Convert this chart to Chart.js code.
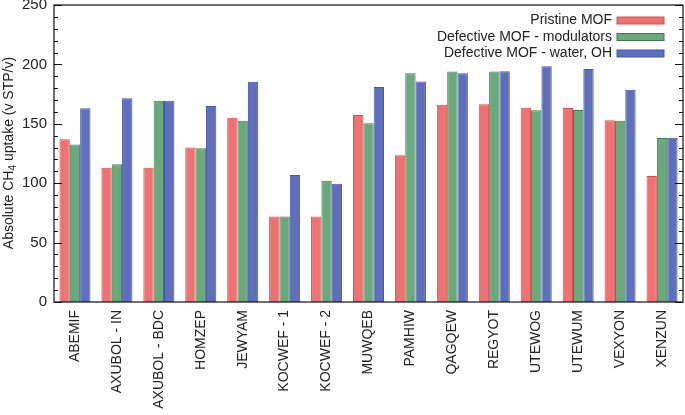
<!DOCTYPE html>
<html>
<head>
<meta charset="utf-8">
<script src="https://cdn.jsdelivr.net/npm/chart.js@4.4.0/dist/chart.umd.min.js"></script>
<style>
  html, body { margin: 0; padding: 0; background: #fff; }
  #wrap { width: 685px; height: 415px; position: relative; }
</style>
</head>
<body>
<div id="wrap"><canvas id="chart"></canvas></div>
<script>
const categories = ["ABEMIF", "AXUBOL - IN", "AXUBOL - BDC", "HOMZEP", "JEWYAM", "KOCWEF - 1", "KOCWEF - 2",
  "MUWQEB", "PAMHIW", "QAGQEW", "REGYOT", "UTEWOG", "UTEWUM", "VEXYON", "XENZUN"];
const pristine = [137, 113, 113, 130, 155, 72, 72, 157.5, 123.5, 166, 166.5, 163.5, 163.3, 153, 106];
const modulators = [132.5, 116, 169.5, 129.5, 152.5, 72, 102, 150.5, 192.5, 194, 194, 161.5, 161.7, 152.5, 138];
const waterOH = [163, 171.5, 169.5, 165, 185.5, 107, 99.5, 181, 185.7, 192.5, 194.2, 198.5, 196.2, 178.7, 138.2];
const seriesNames = ["Pristine MOF", "Defective MOF - modulators", "Defective MOF - water, OH"];
const yTicks = [0, 50, 100, 150, 200, 250];

const fills = ["#ef7272", "#6aa97b", "#5f6fbb"];
const borders = ["#d94c4c", "#3e7a4f", "#4456a8"];
const FONT = "'Liberation Sans', Arial, sans-serif";

// frame, inward ticks, legend and y title
const decor = {
  id: "decor",
  afterDraw(chart) {
    const { ctx, chartArea: a } = chart;
    const y = chart.scales.y;
    ctx.save();
    ctx.strokeStyle = "#111";
    ctx.lineWidth = 1.2;
    ctx.strokeRect(a.left, a.top, a.right - a.left, a.bottom - a.top);
    ctx.lineWidth = 1;
    for (let v = 0; v <= 250; v += 10) {
      const py = Math.round(y.getPixelForValue(v)) + 0.5;
      const len = v % 50 === 0 ? 8 : 4;
      ctx.beginPath();
      ctx.moveTo(a.left, py); ctx.lineTo(a.left + len, py);
      ctx.moveTo(a.right, py); ctx.lineTo(a.right - len, py);
      ctx.stroke();
    }
    // legend
    ctx.font = "14px " + FONT;
    ctx.textAlign = "right";
    ctx.textBaseline = "middle";
    seriesNames.forEach((name, i) => {
      const ly = 20.5 + i * 16.5;
      ctx.fillStyle = "#222";
      ctx.fillText(name, 612, ly);
      ctx.fillStyle = fills[i];
      ctx.fillRect(617, ly - 3.5, 47, 7);
      ctx.strokeStyle = borders[i];
      ctx.strokeRect(617, ly - 3.5, 47, 7);
    });
    // y title with subscript
    ctx.translate(9, 153);
    ctx.rotate(-Math.PI / 2);
    ctx.fillStyle = "#222";
    ctx.textAlign = "left";
    ctx.textBaseline = "middle";
    const p1 = "Absolute CH", p2 = "4", p3 = " uptake (v STP/v)";
    ctx.font = "14px " + FONT;
    const w1 = ctx.measureText(p1).width;
    ctx.font = "10px " + FONT;
    const w2 = ctx.measureText(p2).width;
    ctx.font = "14px " + FONT;
    const w3 = ctx.measureText(p3).width;
    let x = -(w1 + w2 + w3) / 2;
    ctx.fillText(p1, x, 0);
    ctx.font = "10px " + FONT;
    ctx.fillText(p2, x + w1, 4);
    ctx.font = "14px " + FONT;
    ctx.fillText(p3, x + w1 + w2, 0);
    ctx.restore();
  }
};

new Chart(document.getElementById("chart"), {
  type: "bar",
  data: {
    labels: categories,
    datasets: [pristine, modulators, waterOH].map((d, i) => ({
      label: seriesNames[i],
      data: d,
      backgroundColor: fills[i],
      borderColor: borders[i],
      borderWidth: 1,
      borderSkipped: "bottom",
      barPercentage: 1.0,
      categoryPercentage: 0.74
    }))
  },
  options: {
    responsive: true,
    maintainAspectRatio: false,
    animation: false,
    layout: { padding: { top: 5, right: 2, left: 0, bottom: 0 } },
    plugins: { legend: { display: false }, tooltip: { enabled: false } },
    scales: {
      x: {
        afterFit(scale) { scale.height = 113; scale.paddingLeft = 0; scale.paddingRight = 0; },
        grid: { display: false, drawTicks: false },
        border: { display: false },
        ticks: {
          color: "#222",
          font: { family: FONT, size: 14 },
          maxRotation: 90,
          minRotation: 90,
          autoSkip: false,
          padding: 8
        }
      },
      y: {
        min: 0,
        max: 250,
        afterBuildTicks(scale) { scale.ticks = yTicks.map(v => ({ value: v })); },
        afterFit(scale) { scale.width = 54; scale.paddingTop = 0; scale.paddingBottom = 0; },
        grid: { display: false, drawTicks: false },
        border: { display: false },
        ticks: {
          color: "#222",
          font: { family: FONT, size: 15 },
          padding: 7
        }
      }
    }
  },
  plugins: [decor]
});
</script>
</body>
</html>
